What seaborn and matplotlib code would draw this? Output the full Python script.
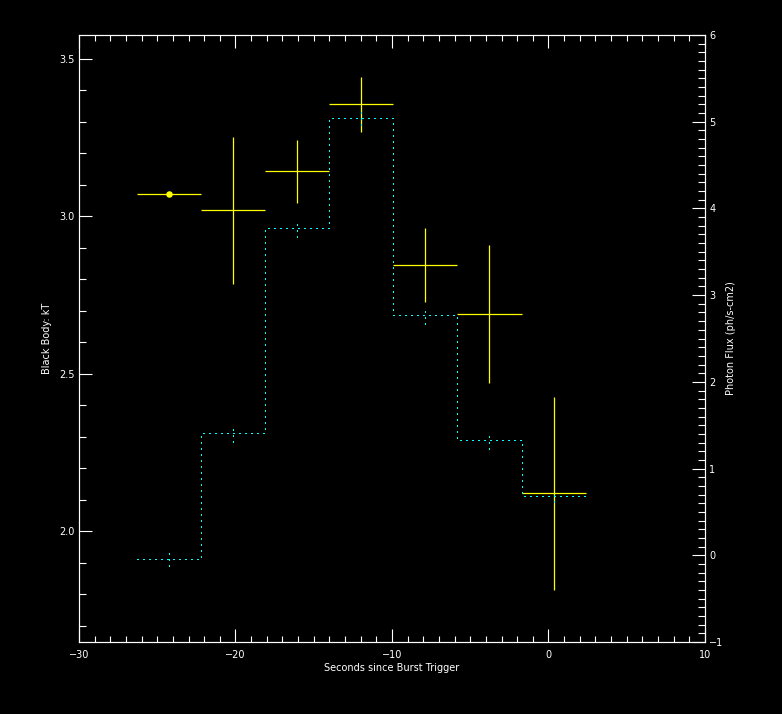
"""
Black body kT and photon flux around the burst trigger
- yellow crosses: kT with time-bin width and 1-sigma error (left axis)
- cyan dotted steps: photon flux per bin (right axis)
"""
import matplotlib

matplotlib.use("Agg")
import matplotlib.pyplot as plt
import numpy as np
import seaborn as sns
from matplotlib.ticker import FormatStrFormatter, MultipleLocator

# time bin edges (seconds since burst trigger)
bin_edges = [-26.32, -22.22, -18.12, -14.02, -9.92, -5.82, -1.72, 2.38]

# black body temperature per bin (left axis)
kt = [3.07, 3.018, 3.142, 3.355, 2.844, 2.688, 2.120]
kt_err = [0.0, 0.234, 0.101, 0.087, 0.118, 0.219, 0.306]

# photon flux per bin (right axis, ph/s-cm2)
flux = [-0.04, 1.41, 3.77, 5.04, 2.77, 1.33, 0.68]
flux_err = [0.08, 0.10, 0.10, 0.08, 0.10, 0.10, 0.06]

YELLOW = "#ffff00"
CYAN = "#00ffff"
DOTS = (0, (1, 3.3))

sns.set_theme(
    style="ticks",
    rc={
        "figure.facecolor": "black",
        "axes.facecolor": "black",
        "axes.edgecolor": "white",
        "axes.labelcolor": "white",
        "text.color": "white",
        "xtick.color": "white",
        "ytick.color": "white",
        "axes.linewidth": 0.8,
        "font.size": 7,
    },
)
plt.rcParams["font.family"] = ["DejaVu Sans"]

edges = np.array(bin_edges)
centers = (edges[:-1] + edges[1:]) / 2
half_width = np.diff(edges) / 2

fig = plt.figure(figsize=(7.82, 7.14), dpi=100)
ax = fig.add_axes([0.101, 0.1008, 0.8005, 0.8502])
ax2 = ax.twinx()

# kT crosses
ax.errorbar(
    centers,
    kt,
    xerr=half_width,
    yerr=kt_err,
    fmt="none",
    ecolor=YELLOW,
    elinewidth=0.9,
    capsize=0,
)
zero_err = np.array(kt_err) == 0
sns.scatterplot(
    x=centers[zero_err],
    y=np.array(kt)[zero_err],
    color=YELLOW,
    s=22,
    linewidth=0,
    ax=ax,
)

# photon flux steps (crisp 1px dots, no antialiasing)
sns.lineplot(
    x=edges,
    y=flux + [flux[-1]],
    drawstyle="steps-post",
    estimator=None,
    sort=False,
    color=CYAN,
    linewidth=1.0,
    linestyle=DOTS,
    antialiased=False,
    ax=ax2,
)
ax2.vlines(
    centers,
    np.array(flux) - np.array(flux_err),
    np.array(flux) + np.array(flux_err),
    colors=CYAN,
    linewidth=1.0,
    linestyles=DOTS,
    antialiased=False,
)

ax.set_xlim(-30, 10)
ax.set_ylim(1.648, 3.575)
ax2.set_ylim(-1, 6)

ax.xaxis.set_major_locator(MultipleLocator(10))
ax.xaxis.set_minor_locator(MultipleLocator(1))
ax.yaxis.set_major_locator(MultipleLocator(0.5))
ax.yaxis.set_minor_locator(MultipleLocator(0.1))
ax.yaxis.set_major_formatter(FormatStrFormatter("%.1f"))
ax2.yaxis.set_major_locator(MultipleLocator(1))
ax2.yaxis.set_minor_locator(MultipleLocator(0.1))

ax.tick_params(which="both", direction="in", top=True, right=False, width=0.8, labelsize=7)
ax.tick_params(axis="y", which="major", length=9.4, pad=3)
ax.tick_params(axis="y", which="minor", length=5)
ax.tick_params(axis="x", which="major", length=9.4, pad=6)
ax.tick_params(axis="x", which="minor", length=4)
ax2.tick_params(which="both", direction="in", width=0.8, labelsize=7, pad=3)
ax2.tick_params(which="major", length=9.4)
ax2.tick_params(which="minor", length=5)

for spine in ax2.spines.values():
    spine.set_color("white")
    spine.set_linewidth(0.8)

ax.set_xlabel("Seconds since Burst Trigger", fontsize=7, labelpad=2)
ax.set_ylabel("Black Body: kT", fontsize=7, labelpad=5)
ax2.set_ylabel("Photon Flux (ph/s-cm2)", fontsize=7, labelpad=2)

fig.savefig("out.png", dpi=100, facecolor="black")
